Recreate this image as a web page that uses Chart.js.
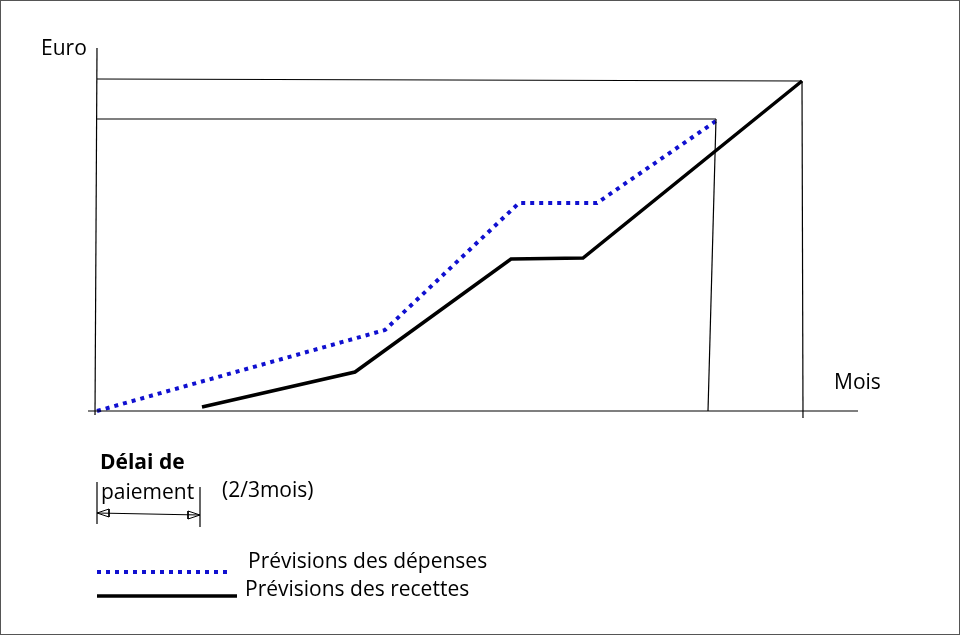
<!DOCTYPE html>
<html><head><meta charset="utf-8">
<script src="https://cdn.jsdelivr.net/npm/chart.js@4/dist/chart.umd.min.js"></script>
<style>
body{margin:0;background:#fff;font-family:"Open Sans",sans-serif;}
#wrap{position:relative;width:960px;height:635px;}
#frame{position:absolute;left:0;top:0;width:958px;height:633px;border:1px solid #555;pointer-events:none;}
.t{position:absolute;font-size:21px;color:#000;white-space:nowrap;line-height:1;}
</style></head><body>
<div id="wrap">
<canvas id="c" width="960" height="635"></canvas>
<div id="frame"></div>
<div class="t" style="left:41px;top:37px">Euro</div>
<div class="t" style="left:834px;top:371px">Mois</div>
<div class="t" style="left:100px;top:451px;font-weight:bold">Délai de</div>
<div class="t" style="left:101px;top:481px">paiement</div>
<div class="t" style="left:222px;top:479px">(2/3mois)</div>
<div class="t" style="left:248px;top:550px">Prévisions des dépenses</div>
<div class="t" style="left:245px;top:578px">Prévisions des recettes</div>
</div>
<script>
const depX=[0,28.8,42.2,50,61.9];
const depY=[0,8.1,20.8,20.8,29];
const recX=[10.5,25.8,41.4,48.6,70.5];
const recY=[0.4,3.9,15.2,15.3,33];
const frameLines=[
 [[0,36.3],[-0.2,-0.4]],
 [[-0.9,0],[76.1,0]],
 [[0,33.2],[70.5,33]],
 [[0,29.2],[61.9,29.2]],
 [[61.9,29.2],[61.1,0]],
 [[70.5,33],[70.6,-0.7]],
 [[0,-7.1],[0,-11.3]],
 [[10.3,-7.6],[10.3,-11.6]],
 [[0,-10.2],[10.3,-10.4]]
];
const arrowHeads=[
 [[0,-10.2],[1.2,-9.8],[1.2,-10.6],[0,-10.2]],
 [[10.3,-10.4],[9.1,-10.0],[9.1,-10.8],[10.3,-10.4]]
];
const legDep=[[0,-16.1],[13.5,-16.1]];
const legRec=[[0,-18.5],[14,-18.5]];
const pts=(xs,ys)=>xs.map((x,i)=>({x,y:ys[i]}));
const seg=s=>s.map(p=>({x:p[0],y:p[1]}));
const ds=[];
frameLines.forEach(l=>ds.push({data:seg(l),borderColor:'#000',borderWidth:1.2,pointRadius:0,showLine:true}));
arrowHeads.forEach(a=>ds.push({data:seg(a),borderColor:'#000',backgroundColor:'#000',borderWidth:1,pointRadius:0,showLine:true,fill:true}));
ds.push({label:'Prévisions des dépenses',data:pts(depX,depY),borderColor:'#1010d0',borderWidth:4,borderDash:[4,5],pointRadius:0,showLine:true});
ds.push({label:'Prévisions des recettes',data:pts(recX,recY),borderColor:'#000',borderWidth:3.5,pointRadius:0,showLine:true});
ds.push({data:seg(legDep),borderColor:'#1010d0',borderWidth:4,borderDash:[4,5],pointRadius:0,showLine:true});
ds.push({data:seg(legRec),borderColor:'#000',borderWidth:3.5,pointRadius:0,showLine:true});
new Chart(document.getElementById('c'),{type:'scatter',data:{datasets:ds},
options:{responsive:false,devicePixelRatio:1,animation:false,layout:{padding:0},
plugins:{legend:{display:false},tooltip:{enabled:false}},
scales:{x:{type:'linear',min:-9.7,max:86.3,display:false},y:{type:'linear',min:-22.4,max:41.1,display:false}}}});
</script>
</body></html>
